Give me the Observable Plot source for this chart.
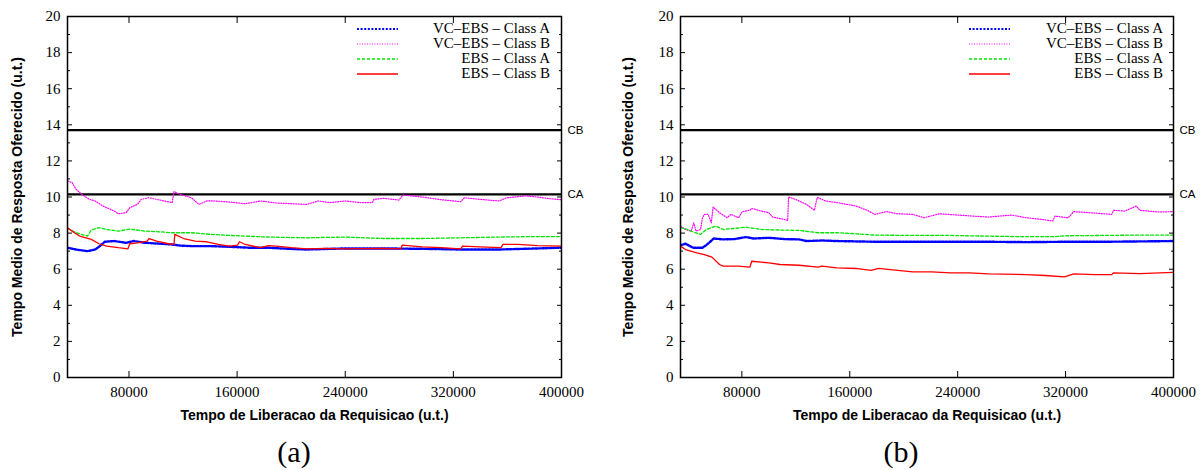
<!DOCTYPE html>
<html><head><meta charset="utf-8">
<script src="https://cdn.jsdelivr.net/npm/d3@7"></script>
<script src="https://cdn.jsdelivr.net/npm/@observablehq/plot@0.6"></script>
<style>
body{margin:0;background:#fff;}
#wrap{display:flex;width:1203px;height:470px;overflow:hidden;}
.panel{position:relative;height:470px;}
.leg{position:absolute;left:0;top:0;font-family:"Liberation Serif",serif;font-size:15px;color:#000;}
.leg .t{position:absolute;white-space:nowrap;line-height:15px;text-align:right;}
.leg svg{position:absolute;overflow:visible;}
.cap{position:absolute;font-family:"Liberation Serif",serif;font-size:30px;line-height:30px;transform:translate(-50%,-50%);white-space:nowrap;}
g[aria-label="y-axis tick label"], g[aria-label="x-axis tick label"]{font-family:"Liberation Serif","Times New Roman",serif !important;font-size:15px !important;font-variant:normal !important;}
</style></head><body><div id="wrap"></div>
<script>
const seriesNames = ["VC–EBS – Class A","VC–EBS – Class B","EBS – Class A","EBS – Class B"];
const seriesColors = ["#0000ff","#ff00ff","#00e600","#ff0000"];
const seriesDash = ["2,1.6","1,1.5","3,2","none"];
const seriesWidth = [2.4,1.2,1.3,1.3];
const xTicks = [80000,160000,240000,320000,400000];
const yTicks = [0,2,4,6,8,10,12,14,16,18,20];
const yMinor = [1,3,5,7,9,11,13,15,17,19];
const xDomain = [34500,400000];
const limitValues = [10.15,13.7];
const limitLabels = ["CA","CB"];
const xTitle = "Tempo de Liberacao da Requisicao (u.t.)";
const yTitle = "Tempo Medio de Resposta Oferecido (u.t.)";
const captions = ["(a)","(b)"];

// Panel (a)
const aVcA = [[34500,7.19],[40800,7.09],[49300,7.00],[55000,7.09],[58400,7.28],[62100,7.52],[69200,7.56],[77800,7.46],[83500,7.56],[92000,7.46],[103400,7.41],[111900,7.37],[117600,7.31],[126100,7.28],[140400,7.28],[154600,7.24],[168800,7.19],[183100,7.19],[197300,7.13],[211500,7.09],[240000,7.15],[268400,7.15],[296900,7.13],[325400,7.09],[353800,7.09],[382300,7.15],[400000,7.19]];
const aVcB = [[34500,10.89],[37900,10.80],[40800,10.43],[45000,10.15],[50700,9.87],[55000,9.78],[60700,9.50],[69200,9.22],[72100,9.07],[77800,9.13],[80600,9.41],[86300,9.59],[89100,9.87],[94800,9.96],[100500,9.87],[106200,9.78],[111900,9.69],[113300,10.30],[117600,10.15],[126100,9.96],[131800,9.59],[137500,9.78],[143200,9.78],[154600,9.72],[166000,9.63],[177400,9.78],[188800,9.67],[200100,9.63],[211500,9.59],[220100,9.78],[228600,9.69],[240000,9.78],[251400,9.69],[259900,9.69],[261300,9.87],[268400,9.93],[279800,9.83],[282700,10.11],[296900,10.00],[311100,9.85],[325400,9.74],[328200,9.96],[339600,9.87],[353800,9.78],[359500,9.96],[373700,10.06],[382300,10.00],[390800,9.91],[400000,9.85]];
const aEbsA = [[34500,8.26],[40800,8.02],[49300,7.83],[52100,8.17],[57800,8.30],[63500,8.20],[72100,8.11],[80600,8.22],[92000,8.11],[103400,8.07],[111900,8.02],[126100,8.02],[140400,7.93],[154600,7.87],[183100,7.78],[211500,7.74],[240000,7.78],[268400,7.70],[296900,7.70],[325400,7.74],[353800,7.78],[382300,7.81],[400000,7.81]];
const aEbsB = [[34500,8.30],[37900,8.11],[43600,7.83],[52100,7.65],[57800,7.41],[63500,7.28],[72100,7.19],[79200,7.13],[80600,7.41],[86300,7.46],[93400,7.56],[94800,7.70],[100500,7.56],[109100,7.41],[113300,7.37],[113900,7.93],[120400,7.70],[129000,7.56],[137500,7.52],[146100,7.37],[154600,7.28],[160300,7.33],[161700,7.52],[166000,7.37],[177400,7.19],[183100,7.31],[188800,7.28],[200100,7.19],[211500,7.13],[225800,7.15],[240000,7.13],[268400,7.15],[281200,7.13],[282100,7.33],[296900,7.24],[311100,7.19],[325400,7.13],[326800,7.28],[339600,7.24],[355200,7.20],[356700,7.37],[368000,7.37],[382300,7.31],[400000,7.28]];

// Panel (b)
const bVcA = [[34500,7.33],[38200,7.41],[43800,7.19],[50800,7.19],[53600,7.33],[59200,7.70],[66200,7.65],[74700,7.67],[83100,7.78],[88700,7.70],[100000,7.74],[111200,7.67],[122400,7.65],[128000,7.56],[139300,7.59],[150500,7.56],[178600,7.52],[206700,7.52],[234800,7.52],[262900,7.52],[291000,7.50],[319100,7.52],[347100,7.52],[375200,7.54],[400000,7.56]];
const bVcB = [[34500,8.39],[38200,8.20],[42400,8.11],[44300,8.57],[46000,8.11],[49400,8.20],[50800,8.85],[52200,9.04],[55000,9.04],[57300,8.57],[58700,9.44],[63400,9.13],[69100,8.85],[71900,9.04],[77500,8.85],[80300,9.19],[85900,9.26],[87300,9.37],[94300,9.22],[100000,9.13],[102800,8.89],[111200,8.76],[114000,8.70],[114600,10.00],[119600,9.87],[128000,9.59],[133700,9.26],[135900,9.98],[142100,9.78],[150500,9.69],[164600,9.50],[173000,9.26],[178600,9.04],[187000,9.19],[195500,9.07],[206700,9.04],[215100,8.85],[226400,9.07],[240400,9.00],[251600,8.94],[262900,8.89],[279700,9.00],[291000,8.85],[302200,8.76],[310600,8.67],[312000,8.94],[321900,8.85],[326100,9.19],[341500,9.11],[354200,9.04],[355600,9.26],[364000,9.22],[372400,9.50],[375200,9.26],[389300,9.17],[400000,9.19]];
const bEbsA = [[34500,8.30],[38200,8.24],[43800,8.07],[49400,7.93],[53600,8.20],[60600,8.39],[66200,8.20],[74700,8.26],[83100,8.33],[94300,8.20],[108400,8.17],[122400,8.15],[136500,8.02],[150500,8.02],[164600,7.96],[178600,7.89],[206700,7.87],[234800,7.87],[262900,7.83],[291000,7.80],[312000,7.80],[319100,7.85],[347100,7.87],[375200,7.89],[400000,7.89]];
const bEbsB = [[34500,7.28],[38200,7.09],[46600,6.91],[52200,6.81],[57800,6.67],[63400,6.26],[66200,6.17],[77500,6.17],[85900,6.11],[87300,6.44],[100000,6.35],[108400,6.26],[122400,6.22],[136500,6.11],[139300,6.17],[150500,6.07],[164600,6.04],[175800,5.93],[181400,6.04],[195500,5.93],[206700,5.85],[220700,5.85],[234800,5.80],[248800,5.80],[262900,5.74],[291000,5.70],[305000,5.65],[319100,5.57],[326100,5.74],[341500,5.70],[354200,5.70],[355600,5.80],[375200,5.76],[400000,5.83]];

const panels = [
  {series:[aVcA,aVcB,aEbsA,aEbsB], width:600, ml:67, mr:39, ylabDx:-50, legLine:357, legText:550, capX:294},
  {series:[bVcA,bVcB,bEbsA,bEbsB], width:603, ml:80, mr:30, ylabDx:-52, legLine:369, legText:563, capX:301}
];

const serif = "'Liberation Serif', 'Times New Roman', serif";
const sans = "'Liberation Sans', Arial, sans-serif";
const wrap = document.getElementById("wrap");
panels.forEach((p, pi) => {
  const lines = p.series.map((pts, i) => Plot.line(pts, {
    x: d => d[0], y: d => d[1], stroke: seriesColors[i], strokeWidth: seriesWidth[i],
    strokeDasharray: seriesDash[i], clip: true
  }));
  const chart = Plot.plot({
    width: p.width, height: 425,
    marginLeft: p.ml, marginRight: p.mr, marginTop: 16, marginBottom: 48,
    x: {domain: xDomain},
    y: {domain: [0, 20]},
    style: {fontFamily: serif, fontSize: "15px", color: "#000", background: "#fff", overflow: "visible"},
    marks: [
      Plot.axisY(yTicks, {anchor: "left", tickSize: 0, tickPadding: 7, fontSize: 15, fontFamily: serif, label: null}),
      Plot.axisY(yTicks, {anchor: "left", tickSize: 5, dx: 5, text: null, label: null}),
      Plot.axisY(yMinor, {anchor: "left", tickSize: 3, dx: 3, text: null, label: null}),
      Plot.axisY(yTicks, {anchor: "right", tickSize: 5, dx: -5, text: null, label: null}),
      Plot.axisY(yMinor, {anchor: "right", tickSize: 3, dx: -3, text: null, label: null}),
      Plot.axisX(xTicks, {anchor: "bottom", tickSize: 0, tickPadding: 9, fontSize: 15, fontFamily: serif, label: null, tickFormat: d => String(d)}),
      Plot.axisX(xTicks, {anchor: "bottom", tickSize: 6, dy: -6, text: null, label: null}),
      Plot.axisX(xTicks, {anchor: "top", tickSize: 6, dy: 6, text: null, label: null}),
      Plot.ruleY(limitValues, {stroke: "black", strokeWidth: 2.2}),
      ...lines,
      Plot.frame({stroke: "black", strokeWidth: 1.5}),
      Plot.text(limitValues, {y: d => d, frameAnchor: "right", dx: 6, textAnchor: "start",
        text: (d, i) => limitLabels[i], fontFamily: sans, fontSize: 11.5}),
      Plot.text([xTitle], {frameAnchor: "bottom", dy: 38, text: d => d, fontWeight: "bold",
        fontFamily: sans, fontSize: 14, lineAnchor: "middle", textAnchor: "middle"}),
      Plot.text([yTitle], {frameAnchor: "left", dx: p.ylabDx, rotate: -90, text: d => d, fontWeight: "bold",
        fontFamily: sans, fontSize: 14, lineAnchor: "middle", textAnchor: "middle"})
    ]
  });
  const div = document.createElement("div");
  div.className = "panel";
  div.style.width = p.width + "px";
  div.appendChild(chart);
  // legend
  const leg = document.createElement("div");
  leg.className = "leg";
  seriesNames.forEach((name, i) => {
    const cy = 29 + i * 15;
    const ns = "http://www.w3.org/2000/svg";
    const s = document.createElementNS(ns, "svg");
    s.setAttribute("width", 41); s.setAttribute("height", 6);
    s.style.left = p.legLine + "px"; s.style.top = (cy - 3) + "px";
    const l = document.createElementNS(ns, "line");
    l.setAttribute("x1", 0); l.setAttribute("x2", 41); l.setAttribute("y1", 3); l.setAttribute("y2", 3);
    l.setAttribute("stroke", seriesColors[i]); l.setAttribute("stroke-width", Math.min(seriesWidth[i], 2));
    if (seriesDash[i] !== "none") l.setAttribute("stroke-dasharray", seriesDash[i]);
    s.appendChild(l);
    leg.appendChild(s);
    const t = document.createElement("div");
    t.className = "t";
    t.textContent = name;
    t.style.right = (p.width - p.legText) + "px";
    t.style.top = (cy - 8) + "px";
    leg.appendChild(t);
  });
  leg.style.width = p.width + "px";
  div.appendChild(leg);
  const cap = document.createElement("div");
  cap.className = "cap";
  cap.textContent = captions[pi];
  cap.style.left = p.capX + "px";
  cap.style.top = "452px";
  div.appendChild(cap);
  wrap.appendChild(div);
});
</script></body></html>
